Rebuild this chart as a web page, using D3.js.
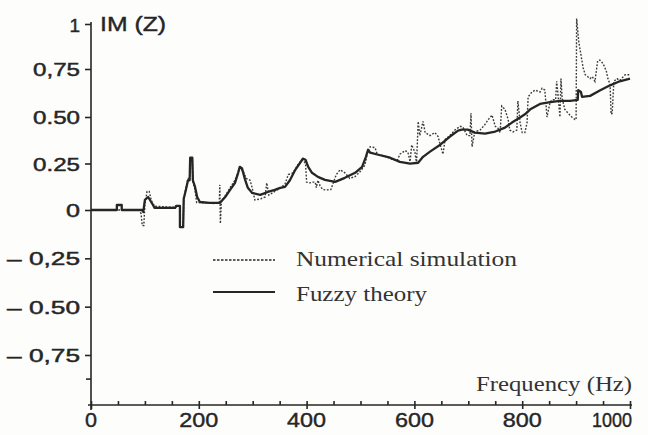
<!DOCTYPE html>
<html>
<head>
<meta charset="utf-8">
<script src="https://cdn.jsdelivr.net/npm/d3@7/dist/d3.min.js"></script>
<style>
  html, body { margin: 0; padding: 0; background: #fdfdfb; }
  svg { display: block; }
</style>
</head>
<body>
<svg id="chart" width="648" height="435"></svg>
<script>
// ---------------- data ----------------
const xTickValues = [0, 200, 400, 600, 800, 1000];
const xTickLabels = ["0", "200", "400", "600", "800", "1000"];
const xMinorTicks = [50, 100, 150, 250, 300, 350, 450, 500, 550, 650, 700, 750, 850, 900, 950];
const yTickValues = [1, 0.75, 0.5, 0.25, 0, -0.25, -0.5, -0.75];
const yTickLabels = ["1", "0,75", "0.50", "0.25", "0", "\u2013 0,25", "\u2013 0.50", "\u2013 0,75"];
const yMinorTicks = [-0.875];

const seriesNames = ["Numerical simulation", "Fuzzy theory"];

// Fuzzy theory (solid)
const fuzzyHz = [0, 48, 48, 57, 57, 95, 97, 100, 106, 115, 118, 156, 158, 165, 165, 171, 172, 176, 180, 183, 184, 188, 189, 193, 197, 202, 220, 239, 249, 258, 267, 273, 276, 280, 286, 291, 299, 314, 328, 341, 351, 360, 369, 379, 388, 393, 398, 403, 410, 421, 434, 453, 471, 490, 503, 510, 514, 518, 533, 555, 573, 592, 607, 616, 629, 648, 666, 681, 688, 699, 712, 731, 750, 768, 781, 796, 805, 815, 833, 852, 870, 889, 903, 904, 909, 911, 926, 944, 963, 981, 1000];
const fuzzyIm = [0, 0, 0.027, 0.027, 0, 0, -0.01, 0.054, 0.07, 0.027, 0.011, 0.011, 0.022, 0.022, -0.089, -0.089, 0.06, 0.108, 0.16, 0.16, 0.281, 0.281, 0.16, 0.124, 0.07, 0.043, 0.038, 0.038, 0.07, 0.108, 0.145, 0.2, 0.232, 0.225, 0.162, 0.119, 0.092, 0.081, 0.097, 0.108, 0.119, 0.124, 0.16, 0.216, 0.254, 0.276, 0.27, 0.232, 0.2, 0.178, 0.162, 0.151, 0.173, 0.2, 0.232, 0.286, 0.324, 0.308, 0.297, 0.281, 0.259, 0.249, 0.254, 0.286, 0.314, 0.351, 0.395, 0.427, 0.432, 0.432, 0.416, 0.411, 0.422, 0.443, 0.47, 0.497, 0.514, 0.54, 0.568, 0.578, 0.584, 0.584, 0.589, 0.64, 0.63, 0.605, 0.61, 0.638, 0.665, 0.686, 0.70];

// Numerical simulation (dotted)
const simHz = [0, 90, 93, 95, 98, 100, 104, 108, 112, 118, 156, 160, 165, 165, 171, 172, 176, 180, 183, 184, 188, 189, 193, 196, 200, 230, 238, 239, 240, 242, 250, 258, 267, 273, 276, 282, 288, 295, 299, 304, 315, 323, 326, 330, 341, 352, 360, 366, 375, 385, 393, 398, 400, 406, 412, 416, 418, 421, 425, 430, 436, 445, 455, 462, 471, 480, 490, 499, 508, 514, 518, 527, 531, 545, 560, 568, 573, 583, 588, 592, 595, 601, 604, 607, 610, 616, 620, 629, 638, 644, 648, 653, 657, 666, 675, 685, 690, 698, 703, 705, 707, 712, 722, 731, 737, 744, 750, 755, 759, 762, 768, 774, 777, 783, 790, 792, 796, 800, 805, 809, 811, 818, 824, 833, 837, 842, 846, 852, 857, 862, 864, 866, 870, 872, 874, 879, 885, 892, 898, 900, 901, 905, 913, 917, 926, 930, 935, 940, 944, 950, 956, 959, 963, 965, 967, 970, 976, 981, 991, 1000];
const simIm = [0, 0, -0.02, -0.08, -0.08, 0.03, 0.10, 0.10, 0.05, 0.02, 0.015, 0.02, 0.02, -0.09, -0.09, 0.05, 0.12, 0.17, 0.17, 0.28, 0.28, 0.15, 0.11, 0.04, 0.04, 0.035, 0.04, 0.135, -0.07, 0.05, 0.08, 0.12, 0.16, 0.2, 0.225, 0.21, 0.17, 0.16, 0.12, 0.054, 0.06, 0.07, 0.146, 0.08, 0.10, 0.12, 0.14, 0.19, 0.20, 0.25, 0.27, 0.25, 0.15, 0.146, 0.15, 0.15, 0.12, 0.16, 0.13, 0.11, 0.108, 0.11, 0.19, 0.216, 0.20, 0.17, 0.18, 0.205, 0.24, 0.32, 0.34, 0.335, 0.30, 0.29, 0.27, 0.265, 0.30, 0.32, 0.31, 0.26, 0.35, 0.31, 0.25, 0.476, 0.40, 0.476, 0.416, 0.40, 0.416, 0.395, 0.35, 0.30, 0.38, 0.40, 0.43, 0.45, 0.445, 0.40, 0.40, 0.52, 0.34, 0.42, 0.43, 0.46, 0.486, 0.51, 0.45, 0.44, 0.416, 0.557, 0.54, 0.486, 0.43, 0.42, 0.43, 0.584, 0.47, 0.416, 0.416, 0.47, 0.605, 0.63, 0.64, 0.63, 0.65, 0.64, 0.50, 0.58, 0.59, 0.59, 0.686, 0.63, 0.50, 0.70, 0.60, 0.54, 0.52, 0.50, 0.486, 0.486, 1.03, 0.90, 0.757, 0.72, 0.70, 0.71, 0.686, 0.795, 0.80, 0.78, 0.74, 0.70, 0.67, 0.514, 0.52, 0.686, 0.70, 0.69, 0.72, 0.72];

// ---------------- drawing ----------------
const svg = d3.select("#chart");
const ink = "#262626";

const x = d3.scaleLinear().domain([0, 1000]).range([91, 630]);
const y = d3.scaleLinear()
  .domain([-1.015, -0.75, 0, 0.5, 0.75, 1])
  .range([405, 355, 210, 117, 69, 24]);

const sansFont = "'Liberation Sans', Arial, sans-serif";
const serifFont = "'Liberation Serif', 'Times New Roman', serif";

// axes lines
const xAxis = d3.axisBottom(x).tickValues(xTickValues).tickSize(-4).tickFormat("");
const gx = svg.append("g").attr("transform", `translate(0,${y(-1.015)})`).call(xAxis);
gx.select(".domain").attr("d", `M${x(0) - 3},0H${x(1000) + 2}`);
gx.selectAll("line").attr("y2", -4).attr("y1", 4);
const xMinorAxis = d3.axisBottom(x).tickValues(xMinorTicks).tickSize(-4).tickFormat("");
const gxm = svg.append("g").attr("transform", `translate(0,${y(-1.015)})`).call(xMinorAxis);
gxm.select(".domain").remove();

const yAxis = d3.axisLeft(y).tickValues(yTickValues).tickSize(6).tickFormat("");
const gy = svg.append("g").attr("transform", `translate(${x(0)},0)`).call(yAxis);
gy.select(".domain").attr("d", `M0,${y(1) - 2}V${y(-1.015) + 5}`);
const yMinorAxis = d3.axisLeft(y).tickValues(yMinorTicks).tickSize(5).tickFormat("");
const gym = svg.append("g").attr("transform", `translate(${x(0)},0)`).call(yMinorAxis);
gym.select(".domain").remove();

svg.selectAll(".domain, .tick line").attr("stroke", ink).attr("stroke-width", 1.6);

// y tick labels
yTickValues.forEach((v, i) => {
  const lab = yTickLabels[i];
  const t = svg.append("text")
    .attr("x", 80).attr("y", y(v) + 1)
    .attr("text-anchor", "end")
    .attr("dominant-baseline", "central")
    .attr("font-family", sansFont)
    .attr("font-size", lab === "1" ? 19 : 18)
    .attr("fill", ink).attr("stroke", ink).attr("stroke-width", 0.45)
    .text(lab);
  if (lab !== "1") {
    const w = lab.length > 4 ? 73 : (lab === "0" ? 14 : 47);
    t.attr("textLength", w).attr("lengthAdjust", "spacingAndGlyphs");
  }
});

// x tick labels
xTickValues.forEach((v, i) => {
  const lab = xTickLabels[i];
  const last = i === xTickValues.length - 1;
  svg.append("text")
    .attr("x", last ? x(v) + 2 : x(v))
    .attr("y", 427)
    .attr("text-anchor", last ? "end" : "middle")
    .attr("font-family", sansFont)
    .attr("font-size", 20)
    .attr("fill", ink).attr("stroke", ink).attr("stroke-width", 0.4)
    .attr("textLength", lab.length === 1 ? 12 : (lab.length === 4 ? 40 : 39))
    .attr("lengthAdjust", "spacingAndGlyphs")
    .text(lab);
});

// axis titles
svg.append("text")
  .attr("x", 100).attr("y", 31)
  .attr("font-family", sansFont).attr("font-size", 20)
  .attr("fill", ink).attr("stroke", ink).attr("stroke-width", 0.4)
  .attr("textLength", 66).attr("lengthAdjust", "spacingAndGlyphs")
  .text("IM (Z)");
svg.append("text")
  .attr("x", 476).attr("y", 391)
  .attr("font-family", serifFont).attr("font-size", 21)
  .attr("fill", "#333")
  .attr("textLength", 156).attr("lengthAdjust", "spacingAndGlyphs")
  .text("Frequency (Hz)");

// series
const simData = simHz.map((h, i) => [h, simIm[i]]);
const fuzzyData = fuzzyHz.map((h, i) => [h, fuzzyIm[i]]);
const line = d3.line().x(d => x(d[0])).y(d => y(d[1]));

svg.append("path")
  .datum(simData)
  .attr("d", line)
  .attr("fill", "none")
  .attr("stroke", "#3a3a3a")
  .attr("stroke-width", 1.4)
  .attr("stroke-dasharray", "1.8,1.6");

svg.append("path")
  .datum(fuzzyData)
  .attr("d", line)
  .attr("fill", "none")
  .attr("stroke", "#262626")
  .attr("stroke-width", 2.3)
  .attr("stroke-linejoin", "round");

// legend
const legend = svg.append("g");
const legendRows = [
  { name: seriesNames[0], dash: "2.5,1.5", w: 1.4, ly: 260, ty: 266, tw: 221 },
  { name: seriesNames[1], dash: null, w: 2.0, ly: 292, ty: 301, tw: 131 }
];
legendRows.forEach(r => {
  legend.append("line")
    .attr("x1", 213).attr("x2", 275)
    .attr("y1", r.ly).attr("y2", r.ly)
    .attr("stroke", ink).attr("stroke-width", r.w)
    .attr("stroke-dasharray", r.dash);
  legend.append("text")
    .attr("x", 296).attr("y", r.ty)
    .attr("font-family", serifFont).attr("font-size", 21)
    .attr("fill", "#333")
    .attr("textLength", r.tw).attr("lengthAdjust", "spacingAndGlyphs")
    .text(r.name);
});
</script>
</body>
</html>
